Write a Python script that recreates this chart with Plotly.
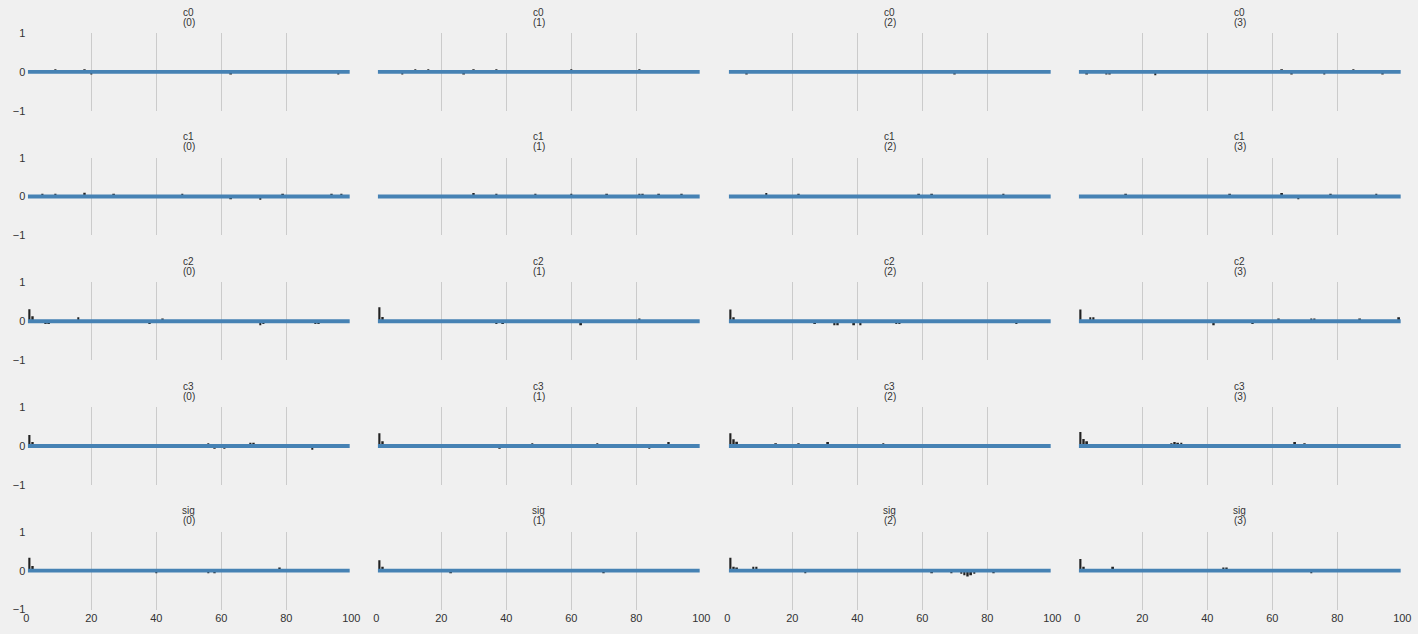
import plotly.graph_objects as go

# ---------------- data (visible autocorrelation bars per chain) ----------------
VARS = ["c0", "c1", "c2", "c3", "sig"]
CHAINS = [0, 1, 2, 3]
MAX_LAG = 100
LAGS_ALL = list(range(1, MAX_LAG))  # lags drawn
BAND = 0.05  # half width of the blue confidence band
X_TICKS = [0, 20, 40, 60, 80, 100]
Y_TICKS = [-1, 0, 1]

c0_lags = [[9, 18, 20, 63, 96],
           [8, 12, 16, 27, 30, 37, 60, 81],
           [6, 70],
           [3, 9, 10, 24, 63, 66, 76, 85, 94]]
c0_vals = [[0.07, 0.07, -0.07, -0.07, -0.07],
           [-0.07, 0.07, 0.07, -0.07, 0.07, 0.07, 0.07, 0.07],
           [-0.07, -0.07],
           [-0.07, -0.07, -0.07, -0.09, 0.07, -0.07, -0.07, 0.07, -0.07]]

c1_lags = [[5, 9, 18, 27, 48, 63, 72, 79, 94, 97],
           [30, 37, 49, 60, 71, 81, 82, 87, 94],
           [12, 22, 59, 63, 85],
           [15, 47, 63, 68, 78, 92]]
c1_vals = [[0.07, 0.07, 0.1, 0.07, 0.07, -0.07, -0.08, 0.07, 0.07, 0.07],
           [0.09, 0.07, 0.07, 0.07, 0.07, 0.07, 0.07, 0.07, 0.07],
           [0.09, 0.07, 0.07, 0.07, 0.07],
           [0.07, 0.07, 0.09, -0.07, 0.07, 0.07]]

c2_lags = [[1, 2, 6, 7, 16, 38, 42, 72, 73, 89, 90],
           [1, 2, 37, 39, 63, 81],
           [1, 2, 27, 33, 34, 39, 41, 52, 53, 89],
           [1, 4, 5, 42, 54, 62, 72, 73, 87, 99]]
c2_vals = [[0.31, 0.13, -0.07, -0.07, 0.1, -0.07, 0.07, -0.1, -0.07, -0.07, -0.07],
           [0.36, 0.11, -0.07, -0.07, -0.1, 0.07],
           [0.3, 0.1, -0.07, -0.1, -0.1, -0.1, -0.1, -0.07, -0.07, -0.07],
           [0.3, 0.1, 0.1, -0.1, -0.07, 0.07, 0.07, 0.07, 0.07, 0.1]]

c3_lags = [[1, 2, 56, 58, 61, 69, 70, 88],
           [1, 2, 38, 48, 68, 84, 90],
           [1, 2, 3, 15, 22, 31, 48],
           [1, 2, 3, 29, 30, 31, 32, 67, 70]]
c3_vals = [[0.28, 0.1, 0.07, -0.07, -0.07, 0.08, 0.08, -0.1],
           [0.33, 0.12, -0.07, 0.07, 0.07, -0.07, 0.1],
           [0.33, 0.17, 0.11, 0.07, 0.07, 0.1, 0.07],
           [0.36, 0.18, 0.12, 0.07, 0.1, 0.08, 0.08, 0.1, 0.07]]

sig_lags = [[1, 2, 40, 56, 58, 78],
            [1, 2, 23, 70],
            [1, 2, 3, 8, 9, 24, 63, 69, 72, 73, 74, 75, 76, 82],
            [1, 2, 11, 45, 46, 72]]
sig_vals = [[0.33, 0.12, -0.07, -0.07, -0.07, 0.08],
            [0.27, 0.1, -0.07, -0.07],
            [0.33, 0.1, 0.08, 0.1, 0.1, -0.07, -0.07, -0.07, -0.08, -0.12, -0.15, -0.12, -0.08, -0.07],
            [0.3, 0.1, 0.1, 0.08, 0.08, -0.07]]

DATA = {"c0": (c0_lags, c0_vals), "c1": (c1_lags, c1_vals), "c2": (c2_lags, c2_vals),
        "c3": (c3_lags, c3_vals), "sig": (sig_lags, sig_vals)}

# ---------------- layout geometry (pixels) ----------------
W, H = 1418, 634
COL_LEFT = [26.3, 376.3, 727.3, 1077.3]
COL_W = 325.0
ROW_TOP = [33.0, 157.7, 282.4, 407.1, 531.8]
ROW_H = 77.7

BG = "#f0f0f0"
GRID = "#cbcbcb"
BAR_C = "#222222"
BAND_C = "#4682b4"
TXT = "#333333"
FONT = "Liberation Sans, Arial, sans-serif"

fig = go.Figure()
layout = dict(width=W, height=H, paper_bgcolor=BG, plot_bgcolor=BG,
              margin=dict(l=0, r=0, t=0, b=0, autoexpand=False), showlegend=False,
              font=dict(family=FONT, color=TXT, size=11))
annotations = []

band_x0 = LAGS_ALL[0] - 0.5
band_x1 = LAGS_ALL[-1] + 0.5

idx = 0
for r, var in enumerate(VARS):
    lags_list, vals_list = DATA[var]
    for c, ch in enumerate(CHAINS):
        idx += 1
        xa = "x" if idx == 1 else f"x{idx}"
        ya = "y" if idx == 1 else f"y{idx}"
        xkey = "xaxis" if idx == 1 else f"xaxis{idx}"
        ykey = "yaxis" if idx == 1 else f"yaxis{idx}"
        x0 = COL_LEFT[c] / W
        x1 = (COL_LEFT[c] + COL_W) / W
        y1 = 1 - ROW_TOP[r] / H
        y0 = 1 - (ROW_TOP[r] + ROW_H) / H

        layout[xkey] = dict(domain=[x0, x1], range=[0, MAX_LAG], anchor=ya,
                            tickvals=X_TICKS, showticklabels=(r == len(VARS) - 1),
                            showgrid=True, gridcolor=GRID, gridwidth=1,
                            zeroline=False, showline=False, ticks="",
                            tickfont=dict(size=11, color=TXT, family=FONT))
        layout[ykey] = dict(domain=[y0, y1], range=[-1, 1], anchor=xa,
                            tickvals=Y_TICKS, showticklabels=(c == 0),
                            showgrid=False, zeroline=False, showline=False, ticks="",
                            tickfont=dict(size=11, color=TXT, family=FONT))

        fig.add_trace(go.Bar(x=lags_list[c], y=vals_list[c], base=0, width=0.55,
                             marker=dict(color=BAR_C, line=dict(width=0)),
                             xaxis=xa, yaxis=ya, hoverinfo="x+y"))
        fig.add_trace(go.Scatter(x=[band_x0, band_x1, band_x1, band_x0, band_x0],
                                 y=[-BAND, -BAND, BAND, BAND, -BAND],
                                 fill="toself", fillcolor=BAND_C, mode="lines",
                                 line=dict(width=0, color=BAND_C),
                                 xaxis=xa, yaxis=ya, hoverinfo="skip"))

        xc = (COL_LEFT[c] + COL_W / 2) / W
        annotations.append(dict(text=var, x=xc, y=y1, xref="paper", yref="paper",
                                xanchor="center", yanchor="middle", yshift=21,
                                showarrow=False, font=dict(size=10, color=TXT, family=FONT)))
        annotations.append(dict(text=f"({ch})", x=xc, y=y1, xref="paper", yref="paper",
                                xanchor="center", yanchor="middle", yshift=11,
                                showarrow=False, font=dict(size=10, color=TXT, family=FONT)))

layout["annotations"] = annotations
layout["barmode"] = "overlay"
fig.update_layout(**layout)

js = """
document.documentElement.style.margin='0';
document.documentElement.style.overflow='hidden';
document.body.style.margin='0';
document.body.style.overflow='hidden';
var gd=document.getElementById('{plot_id}');
gd.style.position='fixed';gd.style.left='0px';gd.style.top='0px';
"""
fig.write_html("out.html", post_script=js, config={"displayModeBar": False})
